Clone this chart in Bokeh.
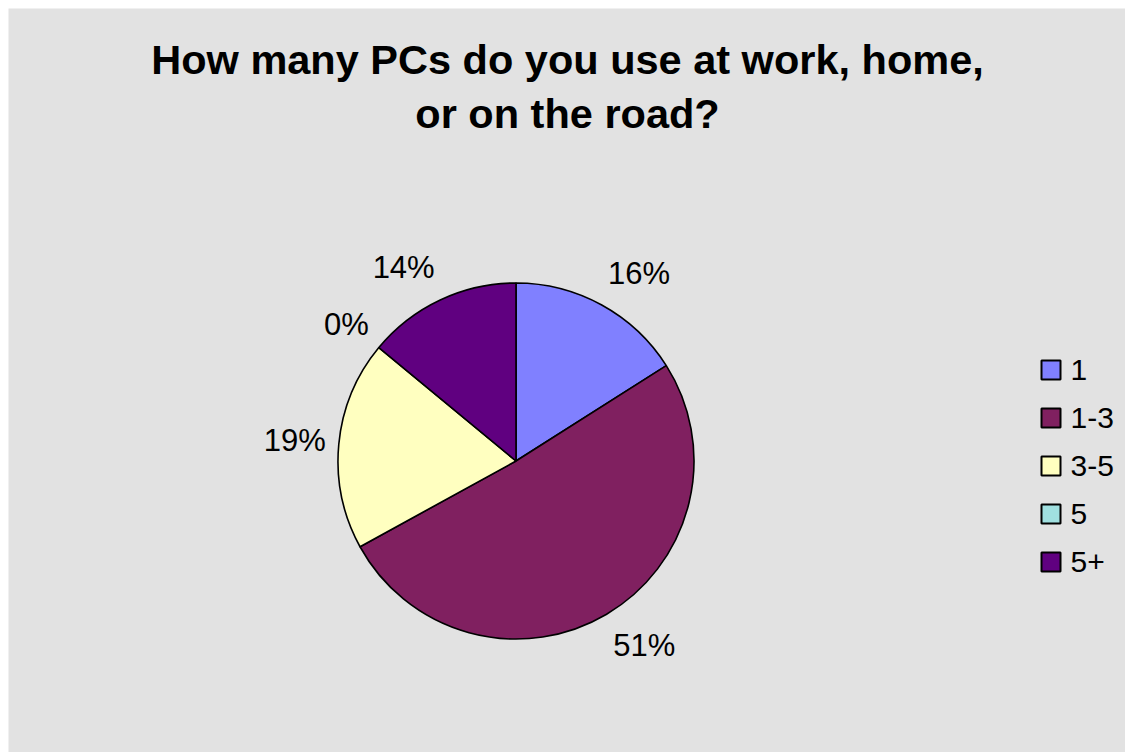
import math
from bokeh.plotting import figure
from bokeh.models import ColumnDataSource, Range1d
from bokeh.core.properties import value
from bokeh.embed import file_html
from bokeh.resources import INLINE

# ---- data ----
categories = ["1", "1-3", "3-5", "5", "5+"]
shares = [16, 51, 19, 0, 14]
colors = ["#8080FF", "#802060", "#FFFFC0", "#A0E0E0", "#600080"]
title_lines = ["How many PCs do you use at work, home,", "or on the road?"]

W, H = 1117, 744
BG = "#e2e2e2"
FONT = "Liberation Sans"

p = figure(width=W, height=H, output_backend="svg", toolbar_location=None,
           x_range=Range1d(0, W), y_range=Range1d(0, H),
           min_border=0, min_border_left=0, min_border_right=0,
           min_border_top=0, min_border_bottom=0, margin=(8, 0, 0, 8))
p.axis.visible = False
p.grid.visible = False
p.background_fill_color = BG
p.border_fill_color = BG
p.outline_line_color = None

# ---- pie ----
cx, cy, r = 507.5, 291.5, 178
total = float(sum(shares))
starts, ends, mids, wcols = [], [], [], []
acc = 0.0
for s, c in zip(shares, colors):
    f0 = acc / total
    acc += s
    f1 = acc / total
    mids.append((f0 + f1) / 2 * 2 * math.pi)  # clockwise from top
    if s > 0:
        starts.append(math.pi / 2 - f0 * 2 * math.pi)
        ends.append(math.pi / 2 - f1 * 2 * math.pi)
        wcols.append(c)

src = ColumnDataSource(dict(start=starts, end=ends, color=wcols))
p.wedge(x=cx, y=cy, radius=r, start_angle="start", end_angle="end",
        direction="clock", fill_color="color", line_color="black",
        line_width=1.6, source=src)

# ---- percentage labels ----
lx, ly, la, lt = [], [], [], []
for s, m in zip(shares, mids):
    sn, cs = math.sin(m), math.cos(m)
    lx.append(cx + 191 * sn)
    ly.append(cy + 214 * cs)
    la.append("left" if sn > 0.001 else "right")
    lt.append(f"{round(s)}%")
lsrc = ColumnDataSource(dict(x=lx, y=ly, align=la, text=lt))
p.text(x="x", y="y", text="text", text_align="align", text_baseline="middle",
       text_font=value(FONT), text_font_size="31px", text_color="black",
       source=lsrc)

# ---- title ----
p.text(x=[559, 559], y=[693, 639], text=title_lines, text_align="center",
       text_baseline="alphabetic", text_font=value(FONT),
       text_font_size="41.5px", text_font_style="bold", text_color="black")

# ---- legend ----
leg_y = [382.5 - 48 * i for i in range(len(categories))]
lgsrc = ColumnDataSource(dict(y=leg_y, color=colors, cat=categories,
                              x=[1042.5] * len(categories),
                              tx=[1062] * len(categories)))
p.rect(x="x", y="y", width=19, height=19, fill_color="color",
       line_color="black", line_width=2, source=lgsrc)
p.text(x="tx", y="y", text="cat", text_baseline="middle", text_align="left",
       text_font=value(FONT), text_font_size="30px", text_color="black",
       source=lgsrc)

open("out.html", "w").write(file_html(p, INLINE))
